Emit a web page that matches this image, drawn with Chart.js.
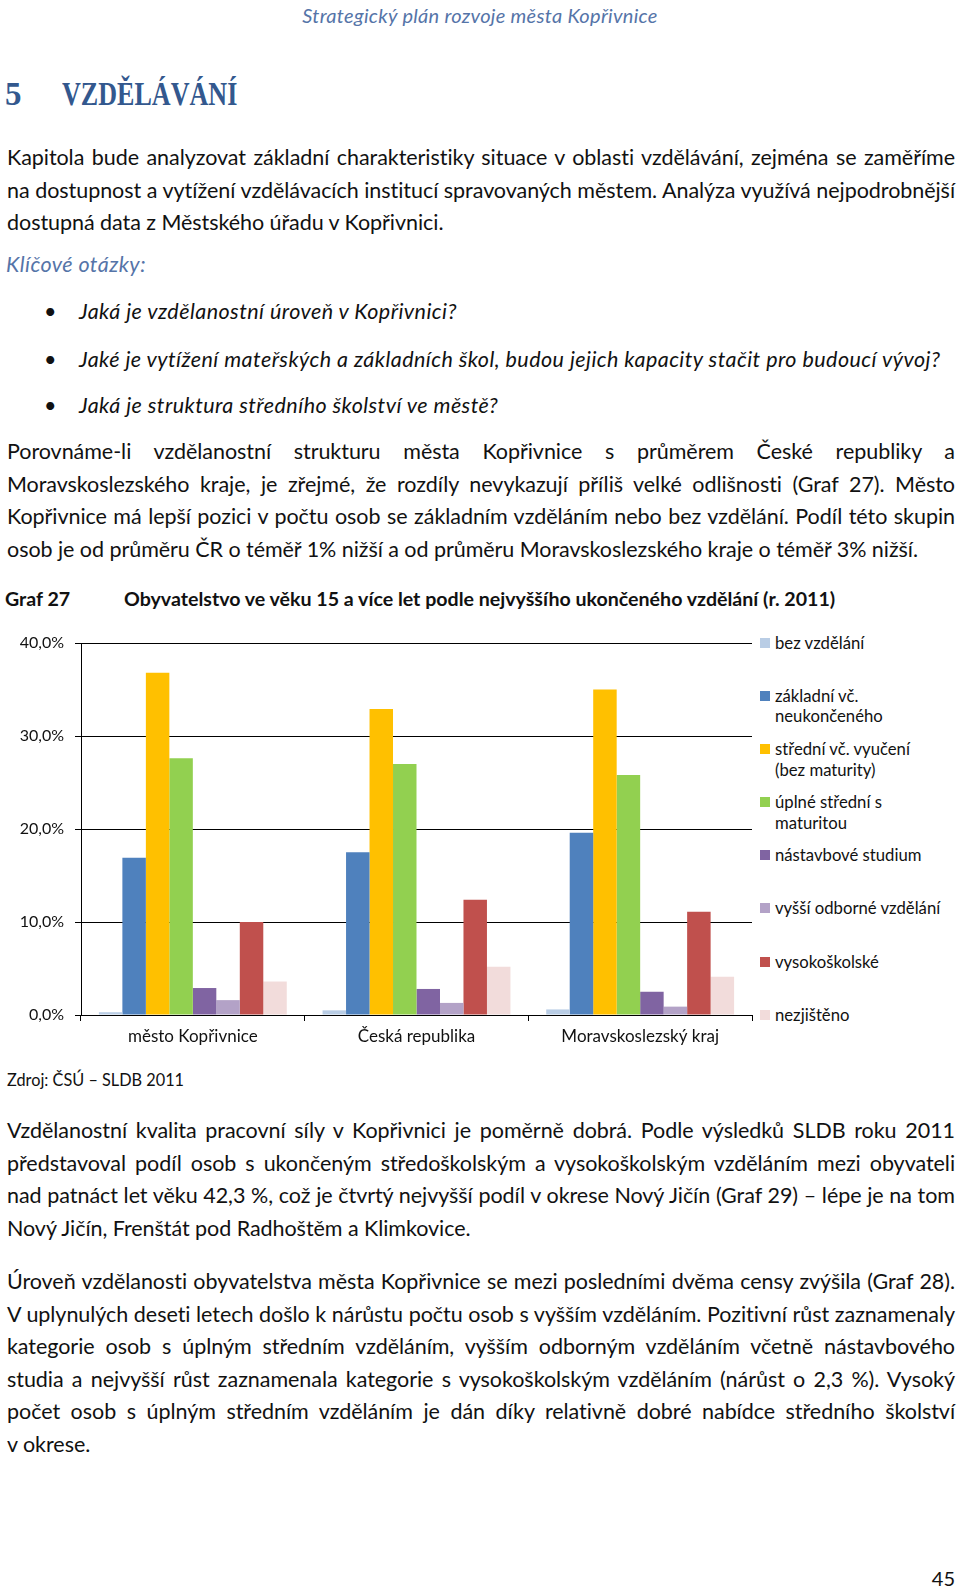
<!DOCTYPE html>
<html lang="cs">
<head>
<meta charset="utf-8">
<script src="https://cdn.jsdelivr.net/npm/chart.js@4.4.1/dist/chart.umd.min.js"></script>
<style>
  html, body { margin: 0; padding: 0; background: #fff; }
  body { width: 960px; height: 1589px; position: relative; overflow: hidden;
         font-family: Lato, "Noto Sans", sans-serif; color: #111; }
  .abs { position: absolute; }
  .hdr { left: 0; width: 960px; top: 1px; text-align: center; font-style: italic;
         font-size: 20px; letter-spacing: 0.3px; color: #5574a8; line-height: 28px; }
  .title { top: 76px; left: 5px; font-family: "Liberation Serif", serif; font-weight: bold;
           font-size: 33px; color: #33588e; line-height: 36px; white-space: nowrap; }
  .title .t { display: inline-block; transform: scaleX(0.79); transform-origin: left center; }
  .para { left: 7px; width: 948px; font-size: 21.5px; letter-spacing: -0.05px; }
  .ln { height: 32.5px; line-height: 32.5px; white-space: nowrap; text-align: justify; text-align-last: justify; }
  .ln.last { text-align: left; text-align-last: left; }
  .kq { left: 6px; font-style: italic; color: #5574a8; font-size: 21.5px; letter-spacing: 0.45px; line-height: 32px; }
  .bul { left: 0; font-style: italic; font-size: 21.5px; letter-spacing: 0.45px; line-height: 32px; white-space: nowrap; }
  .bul .dot { position: absolute; left: 44px; font-style: normal; }
  .bul .tx { position: absolute; left: 79px; }
  .graf { font-weight: bold; font-size: 19.6px; line-height: 32px; white-space: nowrap; }
  .src { left: 7px; font-size: 16.3px; line-height: 32px; }
  .pg { right: 5px; font-size: 20px; line-height: 32px; }
  #legend .item { position: absolute; left: 0; width: 190px; font-size: 16.7px; line-height: 20.5px; color: #111; }
  #legend .sw { position: absolute; left: 0; width: 10px; height: 10px; top: 5px; }
  #legend .lb { position: absolute; left: 15px; width: 169px; }
</style>
</head>
<body>

<div class="abs hdr">Strategický plán rozvoje města Kopřivnice</div>
<div class="abs title">5<span style="display:inline-block;width:40px"></span><span class="t">VZDĚLÁVÁNÍ</span></div>

<div class="abs para" style="top:141px">
  <div class="ln">Kapitola bude analyzovat základní charakteristiky situace v&nbsp;oblasti vzdělávání, zejména se zaměříme</div>
  <div class="ln">na dostupnost a vytížení vzdělávacích institucí spravovaných městem. Analýza využívá nejpodrobnější</div>
  <div class="ln last">dostupná data z Městského úřadu v Kopřivnici.</div>
</div>

<div class="abs kq" style="top:248px">Klíčové otázky:</div>

<div class="abs bul" style="top:295px"><span class="dot">•</span><span class="tx">Jaká je vzdělanostní úroveň v Kopřivnici?</span></div>
<div class="abs bul" style="top:343px"><span class="dot">•</span><span class="tx">Jaké je vytížení mateřských a základních škol, budou jejich kapacity stačit pro budoucí vývoj?</span></div>
<div class="abs bul" style="top:389px"><span class="dot">•</span><span class="tx">Jaká je struktura středního školství ve městě?</span></div>

<div class="abs para" style="top:435px">
  <div class="ln">Porovnáme-li vzdělanostní strukturu města Kopřivnice s&nbsp;průměrem České republiky a</div>
  <div class="ln">Moravskoslezského kraje, je zřejmé, že rozdíly nevykazují příliš velké odlišnosti (Graf 27). Město</div>
  <div class="ln">Kopřivnice má lepší pozici v počtu osob se základním vzděláním nebo bez vzdělání. Podíl této skupin</div>
  <div class="ln last">osob je od průměru ČR o téměř 1% nižší a od průměru Moravskoslezského kraje o téměř 3% nižší.</div>
</div>

<div class="abs graf" style="top:583px;left:5px">Graf 27</div>
<div class="abs graf" style="top:583px;left:124px">Obyvatelstvo ve věku 15 a více let podle nejvyššího ukončeného vzdělání (r. 2011)</div>

<canvas id="chart" class="abs" width="760" height="440" style="left:0;top:620px;width:760px;height:440px"></canvas>
<div id="legend" class="abs" style="left:760px;top:0;width:200px;height:1px"></div>

<div class="abs src" style="top:1064px">Zdroj: ČSÚ – SLDB 2011</div>

<div class="abs para" style="top:1114px">
  <div class="ln">Vzdělanostní kvalita pracovní síly v&nbsp;Kopřivnici je poměrně dobrá. Podle výsledků SLDB roku 2011</div>
  <div class="ln">představoval podíl osob s&nbsp;ukončeným středoškolským a vysokoškolským vzděláním mezi obyvateli</div>
  <div class="ln">nad patnáct let věku 42,3 %, což je čtvrtý nejvyšší podíl v okrese Nový Jičín (Graf 29) – lépe je na tom</div>
  <div class="ln last">Nový Jičín, Frenštát pod Radhoštěm a Klimkovice.</div>
</div>

<div class="abs para" style="top:1265px">
  <div class="ln">Úroveň vzdělanosti obyvatelstva města Kopřivnice se mezi posledními dvěma censy zvýšila (Graf 28).</div>
  <div class="ln">V uplynulých deseti letech došlo k nárůstu počtu osob s&nbsp;vyšším vzděláním. Pozitivní růst zaznamenaly</div>
  <div class="ln">kategorie osob s&nbsp;úplným středním vzděláním, vyšším odborným vzděláním včetně nástavbového</div>
  <div class="ln">studia a nejvyšší růst zaznamenala kategorie s&nbsp;vysokoškolským vzděláním (nárůst o 2,3 %). Vysoký</div>
  <div class="ln">počet osob s&nbsp;úplným středním vzděláním je dán díky relativně dobré nabídce středního školství</div>
  <div class="ln last">v okrese.</div>
</div>

<div class="abs pg" style="top:1562px">45</div>

<script>
// ---- data ----
const categories = ["město Kopřivnice", "Česká republika", "Moravskoslezský kraj"];
const seriesNames = ["bez vzdělání", "základní vč. neukončeného", "střední vč. vyučení (bez maturity)",
  "úplné střední s maturitou", "nástavbové studium", "vyšší odborné vzdělání", "vysokoškolské", "nezjištěno"];
const bezVzdelani   = [0.3, 0.5, 0.6];
const zakladni      = [16.9, 17.5, 19.6];
const stredni       = [36.8, 32.9, 35.0];
const uplneStredni  = [27.6, 27.0, 25.8];
const nastavbove    = [2.9, 2.8, 2.5];
const vyssiOdborne  = [1.6, 1.3, 0.9];
const vysokoskolske = [10.0, 12.4, 11.1];
const nezjisteno    = [3.6, 5.2, 4.1];
const yTicks = [0, 10, 20, 30, 40];
const seriesColors = ["#b9cde5", "#4f81bd", "#ffc000", "#92d050", "#8064a2", "#b3a2c7", "#c0504d", "#f2dcdb"];

const seriesValues = [bezVzdelani, zakladni, stredni, uplneStredni, nastavbove, vyssiOdborne, vysokoskolske, nezjisteno];

function build() {
  Chart.defaults.font.family = "Lato, 'Noto Sans', sans-serif";
  Chart.defaults.color = "#111";
  const ctx = document.getElementById("chart");
  new Chart(ctx, {
    type: "bar",
    data: {
      labels: categories,
      datasets: seriesNames.map((n, i) => ({
        label: n, data: seriesValues[i], backgroundColor: seriesColors[i],
        borderWidth: 0, barPercentage: 1.0, categoryPercentage: 0.84
      }))
    },
    options: {
      responsive: false, animation: false, devicePixelRatio: 1,
      layout: { padding: { top: 23, right: 8, left: 0, bottom: 0 } },
      plugins: { legend: { display: false }, tooltip: { enabled: false } },
      scales: {
        x: {
          grid: { display: true, drawOnChartArea: false, drawTicks: true, tickLength: 6, color: "#000", offset: true },
          border: { color: "#000", width: 1 },
          ticks: { font: { size: 17 }, padding: 5, color: "#111", maxRotation: 0 },
          afterFit: s => { s.height = 45; }
        },
        y: {
          min: yTicks[0], max: yTicks[yTicks.length - 1],
          afterBuildTicks: s => { s.ticks = yTicks.map(v => ({ value: v })); },
          grid: { color: "#000", lineWidth: 1, drawTicks: true, tickLength: 6 },
          border: { color: "#000", width: 1 },
          ticks: { font: { size: 16 }, padding: 11, color: "#111",
                   callback: v => v.toFixed(1).replace(".", ",") + "%" },
          afterFit: s => { s.width = 81; }
        }
      }
    }
  });

  // legend (HTML, wrapping like the original)
  const lg = document.getElementById("legend");
  const firstCenter = 643, lastCenter = 1015;
  const step = (lastCenter - firstCenter) / (seriesNames.length - 1);
  seriesNames.forEach((n, i) => {
    const it = document.createElement("div");
    it.className = "item";
    it.style.top = (firstCenter + i * step - 10.25) + "px";
    it.innerHTML = '<span class="sw" style="background:' + seriesColors[i] + '"></span><span class="lb"></span>';
    it.querySelector(".lb").textContent = n;
    lg.appendChild(it);
  });
}

if (document.fonts && document.fonts.load) {
  Promise.all([document.fonts.load("16px Lato"), document.fonts.load("bold 16px Lato"), document.fonts.load("italic 16px Lato")])
    .then(build, build);
} else { build(); }
</script>
</body>
</html>
